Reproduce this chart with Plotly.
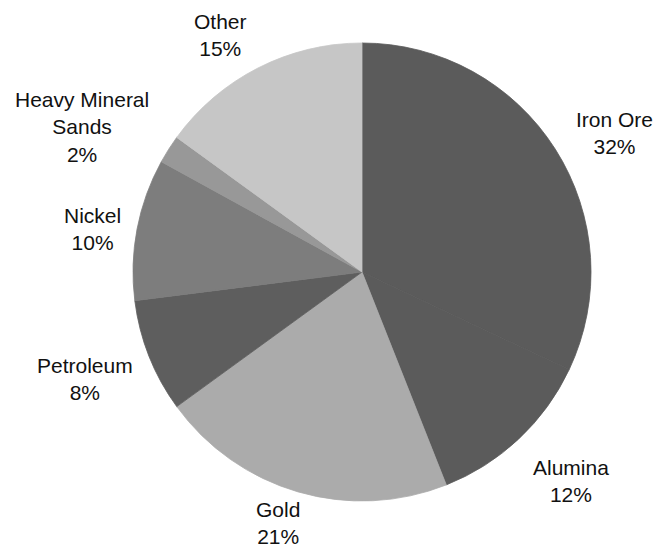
import plotly.graph_objects as go

W, H = 656, 549

categories = ["Iron Ore", "Alumina", "Gold", "Petroleum", "Nickel", "Heavy Mineral Sands", "Other"]
shares = [32, 12, 21, 8, 10, 2, 15]
label_text = ["Iron Ore", "Alumina", "Gold", "Petroleum", "Nickel", "Heavy Mineral<br>Sands", "Other"]

colors = ["#5b5b5b", "#5b5b5b", "#ababab", "#5e5e5e", "#7d7d7d", "#989898", "#c6c6c6"]

# label centre positions in pixels (layout only)
label_pos = {
    "Iron Ore": (614, 133),
    "Alumina": (571, 481),
    "Gold": (278, 523),
    "Petroleum": (85, 379),
    "Nickel": (92, 229),
    "Heavy Mineral Sands": (82, 127),
    "Other": (220, 35),
}

cx, cy, r = 362, 272, 229

fig = go.Figure(go.Pie(
    labels=categories,
    values=shares,
    sort=False,
    direction="clockwise",
    rotation=0,
    textinfo="none",
    hoverinfo="label+percent",
    marker=dict(colors=colors, line=dict(color=colors, width=0.8)),
    domain=dict(x=[(cx - r) / W, (cx + r) / W], y=[(H - cy - r) / H, (H - cy + r) / H]),
    showlegend=False,
))

annotations = []
for cat, lt, v in zip(categories, label_text, shares):
    px, py = label_pos[cat]
    annotations.append(dict(
        x=px / W, y=1 - py / H, xref="paper", yref="paper",
        text=f"{lt}<br>{v}%", showarrow=False,
        xanchor="center", yanchor="middle", align="center",
        font=dict(family="Liberation Sans, Arial", size=21, color="#111111"),
    ))

fig.update_layout(
    width=W, height=H,
    margin=dict(l=0, r=0, t=0, b=0),
    paper_bgcolor="white", plot_bgcolor="white",
    annotations=annotations,
)

fig.write_html("out.html")
